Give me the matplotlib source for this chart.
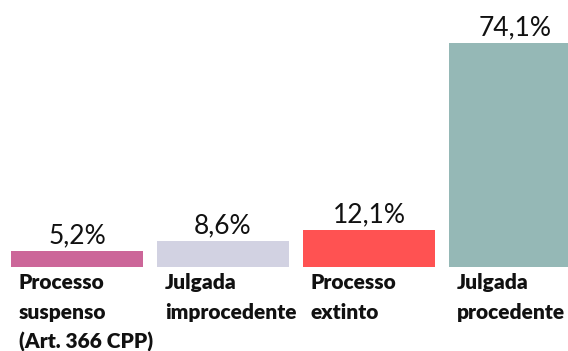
import matplotlib.pyplot as plt

categorias = ['Processo\nsuspenso\n(Art. 366 CPP)', 'Julgada\nimprocedente',
              'Processo\nextinto', 'Julgada\nprocedente']
valores = [5.2, 8.6, 12.1, 74.1]
cores = ['#cc6699', '#d2d2e2', '#ff5252', '#95b8b6']

plt.rcParams['font.family'] = ['Lato', 'DejaVu Sans']

fig = plt.figure(figsize=(5.68, 3.51), dpi=100)
ax = fig.add_axes([0, 84 / 351, 1, 267 / 351])

x = range(len(valores))
largura = 132 / 146
barras = ax.bar(x, valores, width=largura, color=cores)

for xi, v in zip(x, valores):
    ax.annotate(f'{v:.1f}%'.replace('.', ','), (xi, v), xytext=(0, 5.8),
                textcoords='offset points', ha='center', va='baseline',
                fontsize=19, color='#111111')
    ax.annotate(categorias[xi], (xi - largura / 2, 0), xytext=(5.5, -4.5),
                textcoords='offset points', ha='left', va='top',
                fontsize=15, fontweight='heavy', color='#111111',
                linespacing=1.65, annotation_clip=False)

ax.set_xlim(-77 / 146, (568 - 77) / 146)
ax.set_ylim(0, 267 / 3.02)
ax.axis('off')

fig.savefig('out.png', dpi=100)
